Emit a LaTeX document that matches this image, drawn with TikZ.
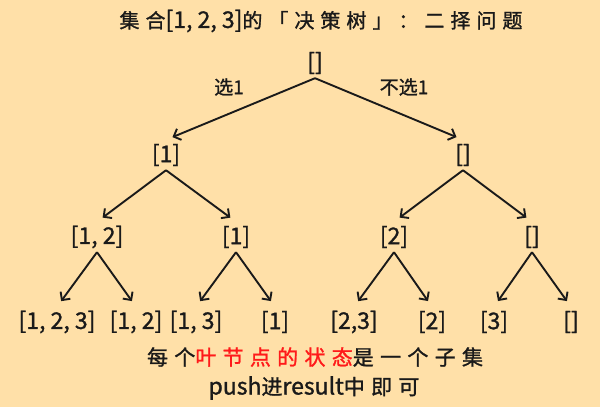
\documentclass[tikz,border=0pt]{standalone}
\usepackage{fontspec}
\setmainfont[FakeBold=1.2]{Noto Sans CJK SC}
\newfontfamily\spaced[LetterSpace=30,FakeBold=1.2]{Noto Sans CJK SC}
\usetikzlibrary{arrows.meta}
\definecolor{bg}{HTML}{FFE0A8}
\definecolor{ink}{HTML}{1A1A1A}
\definecolor{hl}{HTML}{FF1A1A}
\newcommand{\lat}[1]{{\fontsize{23}{25}\selectfont\addfontfeature{LetterSpace=0}#1}}
\begin{document}
\begin{tikzpicture}[x=1pt,y=-1pt,
  tree/.style={font=\fontsize{23}{25}\selectfont, inner sep=0pt, minimum height=30pt, text=ink},
  edge/.style={-{Straight Barb[length=6pt,width=12pt]}, line width=1.9pt, shorten >=7pt, draw=ink},
  elabel/.style={font=\fontsize{19}{21}\selectfont, text=ink, inner sep=0pt},
  note/.style={text=ink, inner sep=0pt}]
\fill[bg] (0,0) rectangle (600,407);
\useasboundingbox (0,0) rectangle (600,407);

\node[note, font=\spaced\fontsize{20}{22}\selectfont] (title) at (321,21) {集合\lat{[1, 2, 3]}的「决策树」：二择问题};

\node[tree] (r) at (315,63) {[]};
\node[tree] (a) at (166,155) {[1]};
\node[tree] (b) at (463,155) {[]};
\node[tree] (aa) at (97,237) {[1, 2]};
\node[tree] (ab) at (236,237) {[1]};
\node[tree] (ba) at (394,237) {[2]};
\node[tree] (bb) at (532,237) {[]};
\node[tree] (l1) at (57,322) {[1, 2, 3]};
\node[tree] (l2) at (136,322) {[1, 2]};
\node[tree] (l3) at (196,322) {[1, 3]};
\node[tree] (l4) at (275,322) {[1]};
\node[tree] (l5) at (354,322) {[2,3]};
\node[tree] (l6) at (432,322) {[2]};
\node[tree] (l7) at (494,322) {[3]};
\node[tree] (l8) at (571,322) {[]};

\draw[edge] (r.south) -- (a.north);
\draw[edge] (r.south) -- (b.north);
\draw[edge] (a.south) -- (aa.north);
\draw[edge] (a.south) -- (ab.north);
\draw[edge] (b.south) -- (ba.north);
\draw[edge] (b.south) -- (bb.north);
\draw[edge] (aa.south) -- (l1.north);
\draw[edge] (aa.south) -- (l2.north);
\draw[edge] (ab.south) -- (l3.north);
\draw[edge] (ab.south) -- (l4.north);
\draw[edge] (ba.south) -- (l5.north);
\draw[edge] (ba.south) -- (l6.north);
\draw[edge] (bb.south) -- (l7.north);
\draw[edge] (bb.south) -- (l8.north);

\node[elabel] (lab1) at (229,87) {选1};
\node[elabel] (lab2) at (404,87) {不选1};

\node[note, font=\spaced\fontsize{21}{23}\selectfont] (n1) at (315,357) {每个\textcolor{hl}{叶节点的状态}是一个子集};
\node[note, font=\spaced\fontsize{21}{23}\selectfont] (n2) at (314,388) {\lat{push}进\lat{result}中即可};
\end{tikzpicture}
\end{document}
